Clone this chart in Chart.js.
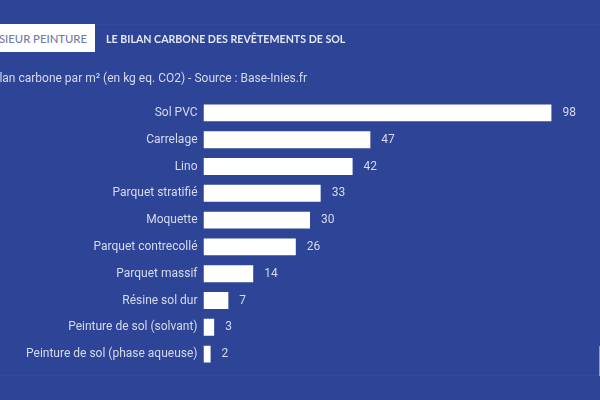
<!DOCTYPE html>
<html lang="fr"><head><meta charset="utf-8">
<script src="https://cdn.jsdelivr.net/npm/chart.js@4"></script>
<style>
html,body{margin:0;padding:0;width:600px;height:400px;overflow:hidden;background:#2e4497}
#wrap{position:absolute;left:0;top:0;width:600px;height:400px}
.t{position:absolute;white-space:nowrap}
#brand{left:-40px;top:24px;width:135px;height:28px;background:#fff;color:#6d7bb0;font:500 11.3px/29px Lato;text-align:right;box-sizing:border-box;padding-right:8px}
#title{left:106px;top:24px;color:#e3e7f3;font:700 10.65px/29px Lato}
#sub{left:-11px;top:70px;color:#d5daec;font:400 12px/16px Roboto}
.r{position:absolute;left:0;width:600px;height:1px;background:#34499c}
#edge{position:absolute;left:599px;top:346px;width:1px;height:30px;background:#8d9ac6}
</style></head><body>
<div id="wrap"><canvas id="c" width="600" height="400"></canvas></div>
<div class="r" style="top:24px"></div><div class="r" style="top:375px"></div>
<div id="edge"></div>
<div class="t" id="brand">MONSIEUR PEINTURE</div>
<div class="t" id="title">LE BILAN CARBONE DES REVÊTEMENTS DE SOL</div>
<div class="t" id="sub">Bilan carbone par m² (en kg eq. CO2) - Source : Base-Inies.fr</div>
<script>
const categories=["Sol PVC","Carrelage","Lino","Parquet stratifié","Moquette","Parquet contrecollé","Parquet massif","Résine sol dur","Peinture de sol (solvant)","Peinture de sol (phase aqueuse)"];
const values=[98,47,42,33,30,26,14,7,3,2];
const labelColor="#d5daec";
const valueLabels={id:"valueLabels",afterDatasetsDraw(ch){
  const g=ch.ctx,m=ch.getDatasetMeta(0);
  g.save();g.fillStyle=labelColor;g.font="400 12px Roboto";g.textBaseline="middle";g.textAlign="left";
  m.data.forEach((b,i)=>g.fillText(String(values[i]),b.x+11,b.y));
  g.restore();
}};
new Chart(document.getElementById("c"),{
  type:"bar",
  data:{labels:categories,datasets:[{data:values,backgroundColor:"#ffffff",borderWidth:0,barPercentage:.63,categoryPercentage:1}]},
  options:{
    indexAxis:"y",responsive:false,animation:false,
    layout:{padding:{top:99.5,bottom:32.5,left:0,right:41.5}},
    plugins:{legend:{display:false},tooltip:{enabled:false}},
    scales:{
      x:{display:false,min:0,max:100},
      y:{offset:true,grid:{display:false,drawTicks:false},border:{display:false},
         afterFit(s){s.width=203.5},
         ticks:{color:labelColor,font:{family:"Roboto",size:12},padding:6,autoSkip:false}}
    }
  },
  plugins:[valueLabels]
});
</script></body></html>
